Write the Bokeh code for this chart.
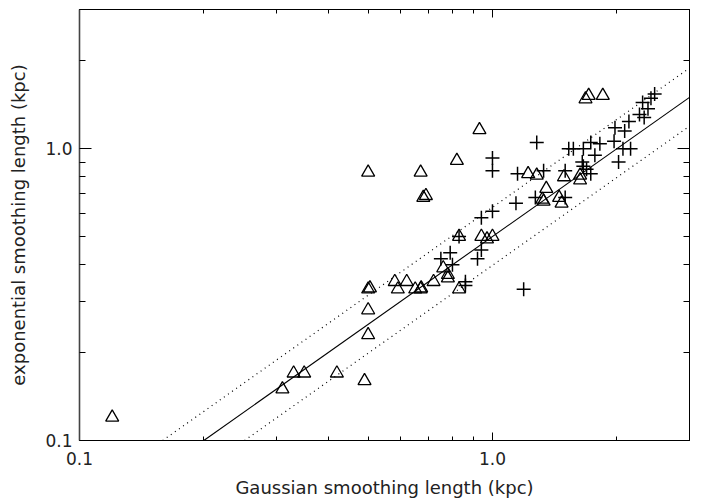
from bokeh.plotting import figure
from bokeh.models import LogAxis, FixedTicker, NumeralTickFormatter, CustomJSTickFormatter
from bokeh.embed import file_html
from bokeh.resources import INLINE

# ---- data (kpc) ----
tri_x = [0.12, 0.31, 0.33, 0.35, 0.42, 0.49, 0.50, 0.50, 0.50, 0.505,
         0.58, 0.59, 0.62, 0.65, 0.67, 0.672, 0.72, 0.76, 0.78, 0.78, 0.83,
         0.83, 0.94, 0.97, 1.00, 1.22, 1.28, 1.35, 1.32, 1.33, 1.45, 1.47,
         1.49, 1.63, 1.63, 0.50, 0.67, 0.68, 0.69, 0.82, 0.93, 1.68, 1.71, 1.85]
tri_y = [0.12, 0.15, 0.17, 0.17, 0.17, 0.16, 0.23, 0.28, 0.33, 0.333,
         0.35, 0.33, 0.35, 0.33, 0.33, 0.333, 0.35, 0.39, 0.37, 0.36, 0.33,
         0.50, 0.50, 0.49, 0.50, 0.82, 0.81, 0.73, 0.67, 0.66, 0.68, 0.65,
         0.80, 0.81, 0.78, 0.83, 0.83, 0.68, 0.69, 0.91, 1.16, 1.48, 1.52, 1.52]

plus_x = [1.28, 1.00, 1.00, 1.14, 1.15, 1.33, 1.27, 1.50, 1.50, 0.94, 1.00,
          0.83, 1.53, 1.57, 1.66, 1.73, 1.82, 1.77, 1.65, 1.66, 1.69, 1.73,
          1.98, 1.97, 2.09, 2.14, 2.02, 2.07, 2.16, 2.27, 2.33, 2.31, 2.38,
          2.42, 2.47, 0.79, 0.75, 0.80, 0.94, 0.92, 0.86, 0.86, 1.19]
plus_y = [1.05, 0.93, 0.84, 0.65, 0.82, 0.84, 0.68, 0.84, 0.68, 0.58, 0.61,
          0.50, 1.00, 1.00, 1.00, 1.05, 1.04, 0.95, 0.90, 0.87, 0.85, 0.82,
          1.18, 1.06, 1.15, 1.24, 0.90, 1.00, 1.00, 1.31, 1.28, 1.44, 1.37,
          1.49, 1.54, 0.44, 0.42, 0.40, 0.45, 0.42, 0.35, 0.34, 0.33]

# relation y = 0.5 x and its +/- 0.1 dex envelope
fit_x = [0.2, 3.0]
fit_y = [0.1, 1.5]
upper_x = [0.159, 3.0]
upper_y = [0.1, 1.89]
lower_x = [0.251, 3.0]
lower_y = [0.1, 1.195]

major_ticks = [0.1, 1.0]
minor_ticks = [0.2, 0.3, 0.4, 0.5, 0.6, 0.7, 0.8, 0.9, 2.0, 3.0]

FONT = "DejaVu Sans"
TXT = "#222222"

p = figure(width=708, height=500, x_axis_type="log", y_axis_type="log",
           x_range=(0.1, 3.0), y_range=(0.1, 3.0),
           output_backend="svg", toolbar_location=None,
           min_border_left=79, min_border_right=19,
           min_border_top=9, min_border_bottom=57)
p.background_fill_color = "white"
p.border_fill_color = "white"
p.outline_line_color = "black"
p.outline_line_width = 1
p.xgrid.visible = False
p.ygrid.visible = False

ticker = FixedTicker(ticks=major_ticks, minor_ticks=minor_ticks)


def style(ax, is_x, labels=True):
    ax.ticker = ticker
    ax.axis_line_color = "black"
    ax.major_tick_out = 0
    ax.minor_tick_out = 0
    ax.major_tick_in = 8 if is_x else 12
    ax.minor_tick_in = 4 if is_x else 6
    ax.major_tick_line_color = "black"
    ax.minor_tick_line_color = "black"
    if labels:
        ax.formatter = NumeralTickFormatter(format="0.0")
        ax.major_label_text_font = FONT
        ax.major_label_text_font_size = "17px"
        ax.major_label_text_color = TXT
    else:
        ax.formatter = CustomJSTickFormatter(code="return ''")
        ax.major_label_standoff = 0


xa = p.xaxis[0]
ya = p.yaxis[0]
style(xa, True)
style(ya, False)
xa.major_label_standoff = 11
ya.major_label_standoff = 7
ya.axis_line_color = "#444444"
ya.axis_line_width = 1.6

xa.axis_label = "Gaussian smoothing length (kpc)"
ya.axis_label = "exponential smoothing length (kpc)"
for ax in (xa, ya):
    ax.axis_label_text_font = FONT
    ax.axis_label_text_font_size = "18px"
    ax.axis_label_text_font_style = "normal"
    ax.axis_label_text_color = TXT
xa.axis_label_standoff = 9
ya.axis_label_standoff = 13

top = LogAxis()
style(top, True, labels=False)
p.add_layout(top, "above")
right = LogAxis()
style(right, False, labels=False)
p.add_layout(right, "right")

p.line(fit_x, fit_y, line_color="black", line_width=1.1)
p.line(upper_x, upper_y, line_color="black", line_width=1.2, line_dash="1 4")
p.line(lower_x, lower_y, line_color="black", line_width=1.2, line_dash="1 4")

p.scatter(tri_x, tri_y, marker="triangle", size=13, fill_color=None,
          line_color="black", line_width=1.3)
p.scatter(plus_x, plus_y, marker="cross", size=14,
          line_color="black", line_width=1.5)

open("out.html", "w").write(file_html(p, INLINE))
